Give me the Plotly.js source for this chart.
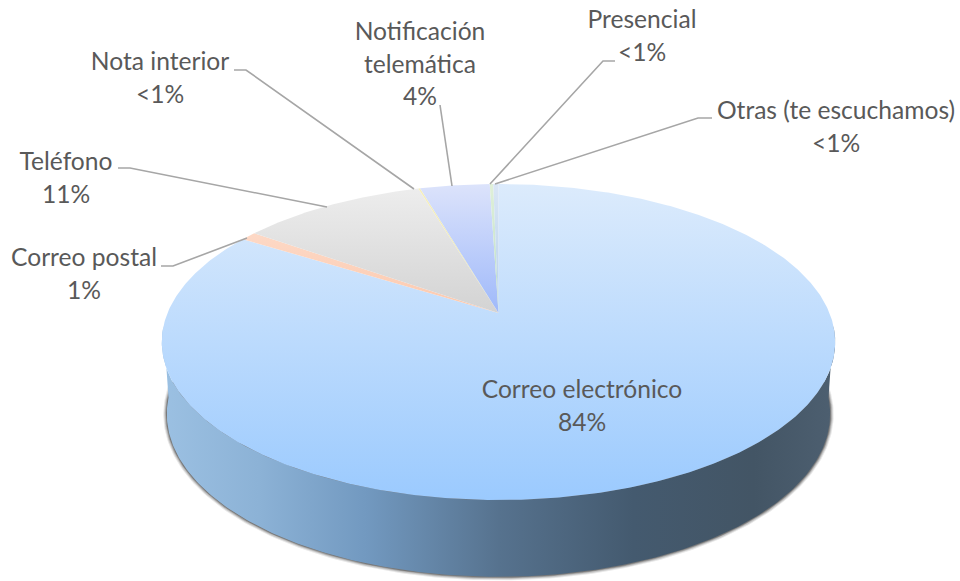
<!DOCTYPE html>
<html><head><meta charset="utf-8">
<script src="https://cdn.plot.ly/plotly-3.0.1.min.js"></script>
<style>html,body{margin:0;padding:0;background:#fff}#c{width:960px;height:581px}</style>
</head><body><div id="c"></div>
<script>
// Data, clockwise from 12 o'clock
const categories = ["Correo electrónico","Correo postal","Teléfono","Nota interior","Notificación telemática","Presencial","Otras (te escuchamos)"];
const shares = [83.9,0.9,10.6,0.1,4.0,0.2,0.3];

// Label text lines and positions (page layout, not data)
const labelLines = [["Correo electrónico"],["Correo postal"],["Teléfono"],["Nota interior"],["Notificación","telemática"],["Presencial"],["Otras (te escuchamos)"]];
const labelX = [582,84,66,160,420,642,836];
const labelY = [392,260,164,64,34,22,113];
const lineGap = 32.5;
const leaderX = [null,[161,173,247],[118,130,327],[234,246,414],[440,452],[615,603,490],[712,698,495]];
const leaderY = [null,[266,266,238],[168,168,207],[70,70,189],[105,186],[61,61,184],[118,118,184]];

// Slice colours: [top, bottom] of each slice's vertical gradient
const sliceTop = ["#dcebfc","#fdd8c5","#ededed","#f6efbb","#dce3fb","#e0f0d8","#dae6f5"];
const sliceBottom = ["#9bcafe","#fcc9ae","#d3d3d3","#ece6a8","#9fb9fa","#b9dcc8","#b4cfea"];
const gradStart = [184,236,188,188,184,184,184];
const gradStop = [500,313,313,313,313,313,313];
const wallScale = [[0,"#9bc0e2"],[0.14,"#8cb2d6"],[0.3,"#7299c0"],[0.5,"#56728e"],[0.7,"#445a6f"],[0.88,"#435565"],[1,"#4d5f70"]];

// Projection of the tilted disc
const cx=498.5, cy0=313, k=0.1836, A=331, B=152.7;
function proj(t,scale,dy,grow){
  const X=Math.sin(t),Y=Math.cos(t),w=1+k*Y;
  const px=A*X/w, py=cy0-B*Y/w;
  if(!scale) return [cx+px,py];
  return [cx+px*scale+(px<0?-grow:grow)*Math.abs(X), (py-342)*1.03+342+dy+grow*Math.max(0,-Y)];
}
function arc(t0,t1,n,scale,dy,grow){
  const x=[],y=[];
  for(let i=0;i<=n;i++){const p=proj(t0+(t1-t0)*i/n,scale,dy,grow);x.push(p[0]);y.push(p[1]);}
  return [x,y];
}
const traces=[];
const tR=Math.acos(-k), tL=2*Math.PI-tR;

// soft shadow round the lower rim
[[3.6,0.09],[2.6,0.14],[1.6,0.2],[0.8,0.25]].forEach(s=>{
  const a=arc(tR-0.2,tL+0.2,200,0.985,72,s[0]);
  traces.push({type:"scatter",mode:"lines",x:a[0],y:a[1],fill:"toself",fillcolor:"rgba(0,0,0,"+s[1]+")",line:{width:0,color:"rgba(0,0,0,0)"},hoverinfo:"skip",showlegend:false});
});

// side wall
const rimTop=arc(tR-0.1,tL+0.1,240), rimBot=arc(tL+0.1,tR-0.1,240,0.985,72,0);
traces.push({type:"scatter",mode:"lines",x:rimTop[0].concat(rimBot[0]),y:rimTop[1].concat(rimBot[1]),fill:"toself",
  fillgradient:{type:"horizontal",colorscale:wallScale,start:165,stop:834},line:{width:0,color:"rgba(0,0,0,0)"},hoverinfo:"skip",showlegend:false});

// slices
let cum=0; const total=shares.reduce((a,b)=>a+b,0);
shares.forEach((v,i)=>{
  const t0=cum/total*2*Math.PI; cum+=v; const t1=cum/total*2*Math.PI;
  const a=arc(t0,t1,Math.max(4,Math.ceil(v*6)));
  traces.push({type:"scatter",mode:"lines",name:categories[i],x:[cx].concat(a[0],[cx]),y:[cy0].concat(a[1],[cy0]),fill:"toself",
    fillgradient:{type:"vertical",colorscale:[[0,sliceTop[i]],[1,sliceBottom[i]]],start:gradStart[i],stop:gradStop[i]},
    line:{width:0,color:"rgba(0,0,0,0)"},hoverinfo:"name",showlegend:false});
});

// leaders
leaderX.forEach((lx,i)=>{ if(!lx) return;
  traces.push({type:"scatter",mode:"lines",x:lx,y:leaderY[i],line:{color:"#a6a6a6",width:1.6},hoverinfo:"skip",showlegend:false});
});

// labels
const tx=[],ty=[],tt=[];
shares.forEach((v,i)=>{
  const lines=labelLines[i].concat([v<0.5?"<1%":Math.round(v)+"%"]);
  lines.forEach((s,j)=>{tx.push(labelX[i]);ty.push(labelY[i]+j*lineGap);tt.push(s);});
});
traces.push({type:"scatter",mode:"text",x:tx,y:ty,text:tt,textposition:"middle center",textfont:{family:"Lato, sans-serif",size:24.6,color:"#595959"},hoverinfo:"skip",showlegend:false,cliponaxis:false});

Plotly.newPlot("c",traces,{
  width:960,height:581,margin:{l:0,r:0,t:0,b:0},paper_bgcolor:"#fff",plot_bgcolor:"#fff",showlegend:false,
  xaxis:{range:[0,960],visible:false,fixedrange:true},
  yaxis:{range:[581,0],visible:false,fixedrange:true}
},{displayModeBar:false,staticPlot:true});
</script></body></html>
